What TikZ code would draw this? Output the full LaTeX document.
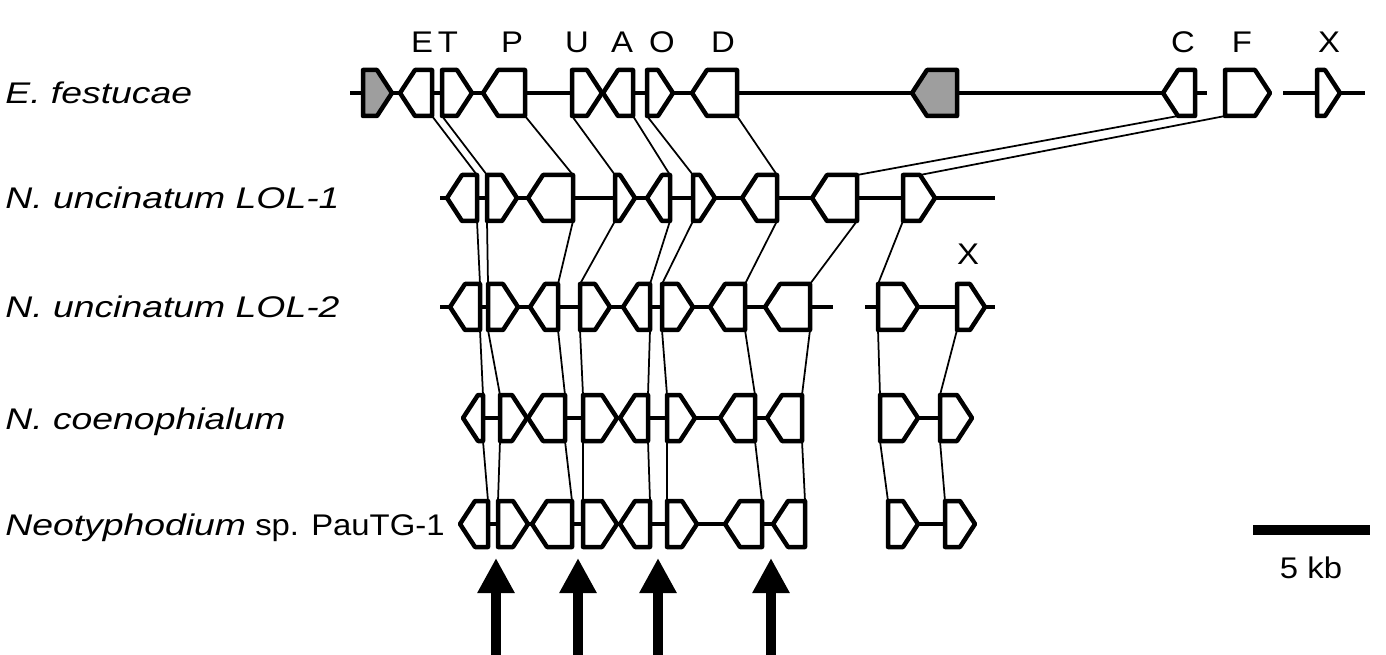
\documentclass[tikz,border=0pt]{standalone}
\usepackage{fontspec}
\setmainfont{Liberation Sans}[FakeStretch=1.1, ItalicFeatures={FakeStretch=1.25}]
\usetikzlibrary{arrows.meta}

\tikzset{
	gene/.style={draw=black, line width=0.9mm, fill=white, line join=round},
	shaded/.style={fill=black!38},
	backbone/.style={line width=0.75mm},
	link/.style={line width=0.35mm},
	lbl/.style={inner sep=0pt, font=\fontsize{17}{20}\selectfont},
	bigarrow/.style={line width=2mm, -{Triangle[width=7mm,length=7mm]}},
}

% gene arrows: [style]{name}{x from}{x to}{row y}
\newcommand{\rgene}[5][]{%
	\draw[gene,#1] (#3,#5-\gh) -- (#4-\gt,#5-\gh) -- (#4,#5) --
		(#4-\gt,#5+\gh) -- (#3,#5+\gh) -- cycle;
	\coordinate (#2-tl) at (#3,#5-\gh);
	\coordinate (#2-tr) at (#4-\gt,#5-\gh);
	\coordinate (#2-bl) at (#3,#5+\gh);
	\coordinate (#2-br) at (#4-\gt,#5+\gh);
}
\newcommand{\lgene}[5][]{%
	\draw[gene,#1] (#4,#5-\gh) -- (#3+\gt,#5-\gh) -- (#3,#5) --
		(#3+\gt,#5+\gh) -- (#4,#5+\gh) -- cycle;
	\coordinate (#2-tl) at (#3+\gt,#5-\gh);
	\coordinate (#2-tr) at (#4,#5-\gh);
	\coordinate (#2-bl) at (#3+\gt,#5+\gh);
	\coordinate (#2-br) at (#4,#5+\gh);
}

\begin{document}
\begin{tikzpicture}[x=0.2mm, y=-0.2mm]
		\pgfmathsetmacro{\gh}{23}
		\pgfmathsetmacro{\gt}{15}
		\useasboundingbox (0,0) rectangle (1386,655);

		% strain names
		\node[lbl, anchor=base west] (n1) at (5,104) {\textit{E. festucae}};
		\node[lbl, anchor=base west] (n2) at (5,209) {\textit{N. uncinatum LOL-1}};
		\node[lbl, anchor=base west] (n3) at (5,318) {\textit{N. uncinatum LOL-2}};
		\node[lbl, anchor=base west] (n4) at (5,429) {\textit{N. coenophialum}};
		\node[lbl, anchor=base west] (n5) at (5,535) {\textit{Neotyphodium} sp. PauTG-1};

		% backbones
		\draw[backbone] (350,93) -- (1207,93);
		\draw[backbone] (1283,93) -- (1365,93);
		\draw[backbone] (440,198) -- (995,198);
		\draw[backbone] (440,307) -- (833,307);
		\draw[backbone] (865,307) -- (995,307);
		\draw[backbone] (470,418) -- (800,418);
		\draw[backbone] (885,418) -- (970,418);
		\draw[backbone] (465,524) -- (800,524);
		\draw[backbone] (892,524) -- (970,524);

		% E. festucae
		\rgene[shaded]{e1}{363}{392}{93}
		\lgene{e2}{400}{432}{93}
		\rgene{e3}{442}{472}{93}
		\lgene{e4}{483}{525}{93}
		\rgene{e5}{572}{602}{93}
		\lgene{e6}{603}{633}{93}
		\rgene{e7}{647}{673}{93}
		\lgene{e8}{692}{737}{93}
		\lgene[shaded]{e9}{912}{957}{93}
		\lgene{e10}{1163}{1195}{93}
		\rgene{e11}{1225}{1270}{93}
		\rgene{e12}{1317}{1340}{93}

		% LOL-1
		\lgene{u1}{447}{477}{198}
		\rgene{u2}{487}{517}{198}
		\lgene{u3}{528}{573}{198}
		\rgene{u4}{615}{635}{198}
		\lgene{u5}{647}{670}{198}
		\rgene{u6}{693}{715}{198}
		\lgene{u7}{742}{777}{198}
		\lgene{u8}{812}{857}{198}
		\rgene{u9}{903}{935}{198}

		% LOL-2
		\lgene{w1}{450}{480}{307}
		\rgene{w2}{488}{518}{307}
		\lgene{w3}{530}{558}{307}
		\rgene{w4}{580}{610}{307}
		\lgene{w5}{623}{650}{307}
		\rgene{w6}{662}{693}{307}
		\lgene{w7}{710}{745}{307}
		\lgene{w8}{765}{810}{307}
		\rgene{w9}{878}{918}{307}
		\rgene{w10}{957}{985}{307}

		% N. coenophialum
		\lgene{c1}{463}{483}{418}
		\rgene{c2}{500}{527}{418}
		\lgene{c3}{528}{565}{418}
		\rgene{c4}{583}{617}{418}
		\lgene{c5}{620}{648}{418}
		\rgene{c6}{667}{695}{418}
		\lgene{c7}{720}{755}{418}
		\lgene{c8}{767}{802}{418}
		\rgene{c9}{880}{918}{418}
		\rgene{c10}{940}{972}{418}

		% PauTG-1
		\lgene{p1}{460}{488}{524}
		\rgene{p2}{498}{528}{524}
		\lgene{p3}{532}{572}{524}
		\rgene{p4}{583}{617}{524}
		\lgene{p5}{620}{650}{524}
		\rgene{p6}{667}{697}{524}
		\lgene{p7}{725}{762}{524}
		\lgene{p8}{773}{805}{524}
		\rgene{p9}{888}{918}{524}
		\rgene{p10}{945}{975}{524}

		% synteny lines
		\foreach \a/\b in {e2-br/u1-tr, e3-bl/u2-tl, e4-br/u3-tr, e5-bl/u4-tl,
				e6-br/u5-tr, e7-bl/u6-tl, e8-br/u7-tr, e10-bl/u8-tr, e11-bl/u9-tr,
				u1-br/w1-tr, u2-bl/w2-tl, u3-br/w3-tr, u4-bl/w4-tl, u5-br/w5-tr,
				u6-bl/w6-tl, u7-br/w7-tr, u8-br/w8-tr, u9-bl/w9-tl,
				w1-br/c1-tr, w2-bl/c2-tl, w3-br/c3-tr, w4-bl/c4-tl, w5-br/c5-tr,
				w6-bl/c6-tl, w7-br/c7-tr, w8-br/c8-tr, w9-bl/c9-tl, w10-bl/c10-tl,
				c1-br/p1-tr, c2-bl/p2-tl, c3-br/p3-tr, c4-bl/p4-tl, c5-br/p5-tr,
				c6-bl/p6-tl, c7-br/p7-tr, c8-br/p8-tr, c9-bl/p9-tl, c10-bl/p10-tl}
			\draw[link] (\a) -- (\b);

		% gene letters
		\foreach \t/\x in {E/422, T/448, P/512, U/577, A/622, O/662, D/723,
				C/1183, F/1242, X/1329}
			\node[lbl, anchor=base] (l\t) at (\x,53) {\t};
		\node[lbl, anchor=base] (lX2) at (968,265) {X};

		% arrows
		\foreach \x [count=\i] in {496, 578, 658, 771} {
			\coordinate (tip\i) at (\x,558);
			\coordinate (foot\i) at (\x,655);
			\draw[bigarrow] (foot\i) -- (tip\i);
		}

		% scale bar
		\coordinate (s1) at (1253,530);
		\coordinate (s2) at (1370,530);
		\draw[line width=2mm] (s1) -- (s2);
		\node[lbl, anchor=base] (kb) at (1311,578) {5 kb};
	\end{tikzpicture}
\end{document}
